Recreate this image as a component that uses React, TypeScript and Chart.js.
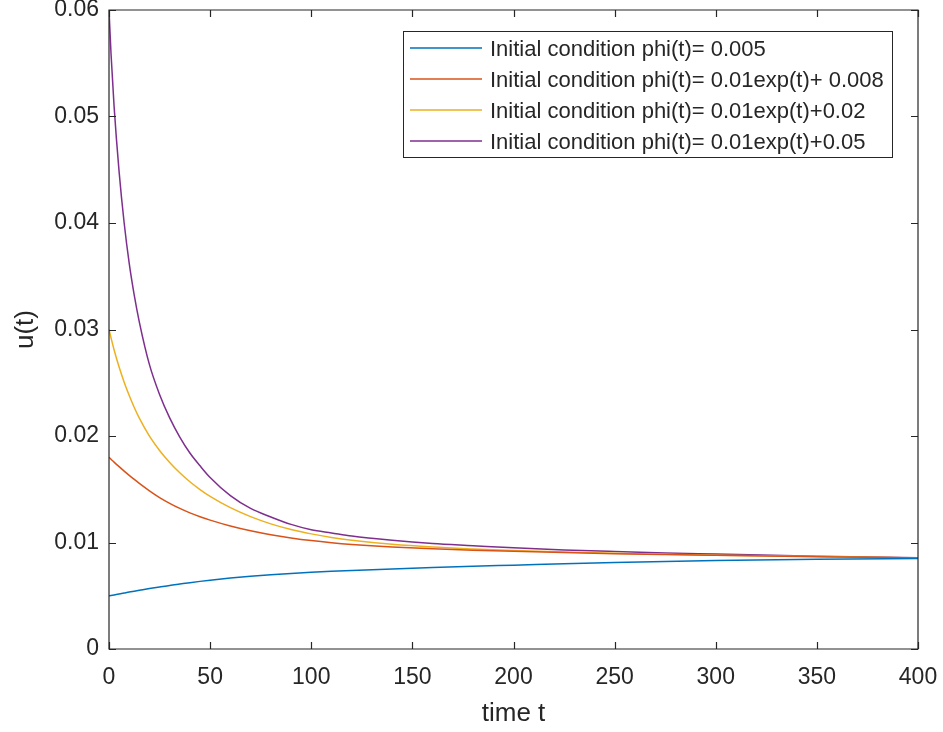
import React, { useEffect, useRef } from "react";
import { Chart, registerables } from "chart.js";

Chart.register(...registerables);

const times = [0, 1, 2.5, 5, 7.5, 10, 12.5, 15, 20, 25, 30, 35, 40, 45, 50, 60, 70, 80, 90, 100, 110, 120, 140, 160, 180, 200, 225, 250, 275, 300, 350, 400];

const uConst005 = [0.005, 0.00503, 0.00508, 0.00517, 0.00526, 0.00535, 0.00543, 0.00551, 0.00567, 0.00582, 0.00597, 0.0061, 0.00623, 0.00635, 0.00646, 0.00666, 0.00683, 0.00698, 0.0071, 0.0072, 0.00729, 0.00737, 0.00752, 0.00765, 0.00777, 0.00787, 0.008, 0.00812, 0.00822, 0.0083, 0.00842, 0.0085];
const uExp008 = [0.018, 0.01782, 0.01755, 0.01712, 0.0167, 0.0163, 0.01592, 0.01555, 0.01485, 0.01422, 0.01368, 0.0132, 0.01278, 0.01242, 0.0121, 0.01155, 0.0111, 0.01073, 0.01043, 0.01018, 0.00998, 0.00982, 0.00958, 0.00941, 0.00928, 0.00917, 0.00905, 0.00895, 0.00887, 0.0088, 0.00867, 0.00855];
const uExp02 = [0.03, 0.02922, 0.0281, 0.02647, 0.02505, 0.0238, 0.02268, 0.02167, 0.01998, 0.01864, 0.01752, 0.01655, 0.0157, 0.01497, 0.01433, 0.01327, 0.01243, 0.01175, 0.01122, 0.01081, 0.01048, 0.01022, 0.00984, 0.00958, 0.0094, 0.00925, 0.0091, 0.00898, 0.00889, 0.00881, 0.00868, 0.00855];
const uExp05 = [0.06, 0.0559, 0.051, 0.0448, 0.04, 0.0362, 0.0332, 0.0307, 0.0267, 0.0239, 0.0217, 0.0199, 0.0184, 0.0172, 0.0161, 0.0144, 0.0132, 0.0124, 0.0117, 0.0112, 0.0109, 0.0106, 0.0102, 0.0099, 0.0097, 0.0095, 0.0093, 0.00915, 0.00902, 0.00892, 0.00872, 0.00857];

const seriesLabels = [
  "Initial condition phi(t)= 0.005",
  "Initial condition phi(t)= 0.01exp(t)+ 0.008",
  "Initial condition phi(t)= 0.01exp(t)+0.02",
  "Initial condition phi(t)= 0.01exp(t)+0.05",
];
const seriesColors = ["#0072BD", "#D95319", "#EDB120", "#7E2F8E"];

const xTickLabels = ["0", "50", "100", "150", "200", "250", "300", "350", "400"];
const yTickLabels = ["0", "0.01", "0.02", "0.03", "0.04", "0.05", "0.06"];

const FONT = "'Liberation Sans', Arial, Helvetica, sans-serif";
const INK = "#262626";

const boxTicksPlugin = {
  id: "boxTicks",
  afterDatasetsDraw(chart: any) {
    const { ctx, chartArea } = chart;
    const { left, right, top, bottom } = chartArea;
    const xs = chart.scales.x;
    const ys = chart.scales.y;
    const len = 7;
    ctx.save();
    ctx.strokeStyle = INK;
    ctx.lineWidth = 1.2;
    ctx.beginPath();
    ctx.rect(left, top, right - left, bottom - top);
    ctx.stroke();
    ctx.beginPath();
    xs.ticks.forEach((t: any) => {
      const px = Math.round(xs.getPixelForValue(t.value)) + 0.5;
      ctx.moveTo(px, bottom);
      ctx.lineTo(px, bottom - len);
      ctx.moveTo(px, top);
      ctx.lineTo(px, top + len);
    });
    ys.ticks.forEach((t: any) => {
      const py = Math.round(ys.getPixelForValue(t.value)) + 0.5;
      ctx.moveTo(left, py);
      ctx.lineTo(left + len, py);
      ctx.moveTo(right, py);
      ctx.lineTo(right - len, py);
    });
    ctx.stroke();
    ctx.restore();
  },
};

const boxLegendPlugin = {
  id: "boxLegend",
  afterDraw(chart: any) {
    const { ctx } = chart;
    const bx = 403;
    const by = 31;
    const bw = 489;
    const bh = 126;
    const row0 = 48;
    const rowStep = 31;
    ctx.save();
    ctx.fillStyle = "#ffffff";
    ctx.fillRect(bx, by, bw, bh);
    ctx.strokeStyle = INK;
    ctx.lineWidth = 1;
    ctx.strokeRect(bx + 0.5, by + 0.5, bw, bh);
    ctx.font = `22px ${FONT}`;
    ctx.textBaseline = "middle";
    ctx.textAlign = "left";
    chart.data.datasets.forEach((ds: any, i: number) => {
      const y = row0 + i * rowStep;
      ctx.strokeStyle = ds.borderColor;
      ctx.lineWidth = 1.5;
      ctx.beginPath();
      ctx.moveTo(410, y);
      ctx.lineTo(482, y);
      ctx.stroke();
      ctx.fillStyle = INK;
      ctx.fillText(ds.label, 490, y + 2);
    });
    ctx.restore();
  },
};

export default function App() {
  const canvasRef = useRef<HTMLCanvasElement | null>(null);

  useEffect(() => {
    if (!canvasRef.current) return;
    const series = [uConst005, uExp008, uExp02, uExp05];
    const chart = new Chart(canvasRef.current, {
      type: "line",
      data: {
        datasets: series.map((vals, i) => ({
          label: seriesLabels[i],
          data: times.map((t, j) => ({ x: t, y: vals[j] })),
          borderColor: seriesColors[i],
          backgroundColor: seriesColors[i],
          borderWidth: 1.5,
          pointRadius: 0,
          fill: false,
          cubicInterpolationMode: "monotone" as const,
        })),
      },
      options: {
        animation: false,
        responsive: false,
        devicePixelRatio: 1,
        layout: { padding: { top: 10, right: 25, left: 0, bottom: 0 } },
        plugins: {
          legend: { display: false },
          tooltip: { enabled: false },
        },
        scales: {
          x: {
            type: "linear",
            min: 0,
            max: 400,
            grid: { display: false, drawTicks: false },
            border: { display: false },
            ticks: {
              stepSize: 50,
              padding: 15,
              color: INK,
              font: { family: FONT, size: 23 },
              maxRotation: 0,
              callback: (_v: any, i: number) => xTickLabels[i],
            },
            title: {
              display: true,
              text: "time t",
              color: INK,
              font: { family: FONT, size: 26 },
              padding: { top: 0, bottom: 3 },
            },
            afterFit: (scale: any) => {
              scale.height = 83;
              scale.paddingLeft = 0;
              scale.paddingRight = 0;
            },
          },
          y: {
            type: "linear",
            min: 0,
            max: 0.06,
            grid: { display: false, drawTicks: false },
            border: { display: false },
            ticks: {
              stepSize: 0.01,
              padding: 10,
              color: INK,
              font: { family: FONT, size: 23 },
              callback: (_v: any, i: number) => yTickLabels[i],
            },
            title: {
              display: true,
              text: "u(t)",
              color: INK,
              font: { family: FONT, size: 26 },
              padding: { top: 10, bottom: 0 },
            },
            afterFit: (scale: any) => {
              scale.width = 109;
              scale.paddingTop = 0;
              scale.paddingBottom = 0;
            },
          },
        },
      },
      plugins: [boxTicksPlugin, boxLegendPlugin],
    });
    return () => chart.destroy();
  }, []);

  return (
    <div style={{ position: "fixed", left: 0, top: 0, width: 943, height: 732, background: "#ffffff" }}>
      <canvas ref={canvasRef} width={943} height={732} style={{ width: 943, height: 732, display: "block" }} />
    </div>
  );
}
